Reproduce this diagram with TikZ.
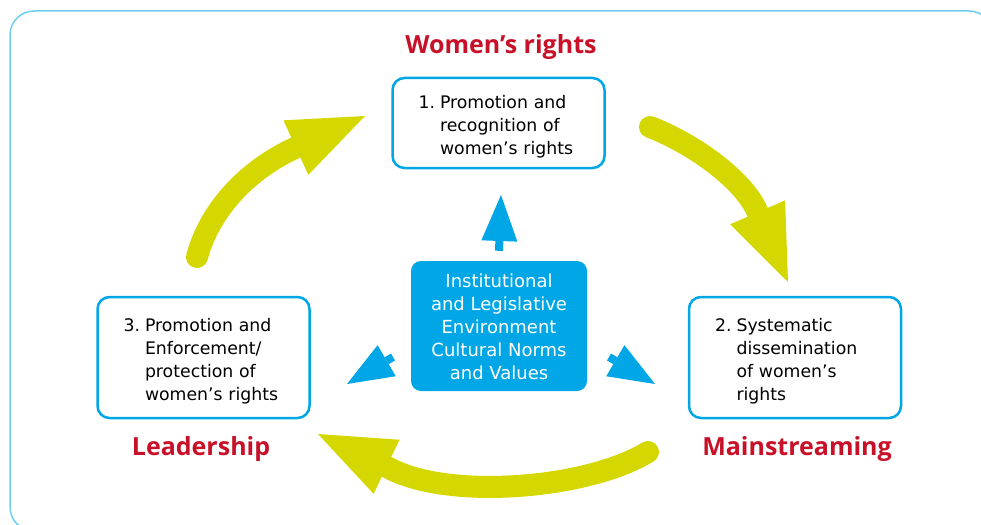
\documentclass[tikz,border=0pt]{standalone}
\usepackage{fontspec}
\setmainfont{DejaVu Sans}
\newfontfamily\headfont{Open Sans}
\usetikzlibrary{arrows.meta}

\definecolor{boxblue}{RGB}{0,166,230}
\definecolor{framecyan}{RGB}{110,205,242}
\definecolor{leaf}{RGB}{212,216,0}
\definecolor{titlered}{RGB}{200,16,40}

\newcommand{\steplist}[1]{\raisebox{-4pt}[\height][\depth]{\begin{tabular}{@{}l@{\hspace{5pt}}l@{}}#1\end{tabular}}}

\tikzset{
  stage/.style={draw=boxblue, line width=2.5pt, rounded corners=12pt, fill=white,
    minimum height=#1, text width=160pt, inner xsep=26pt, align=left,
    font=\fontsize{17.3}{23}\selectfont},
  core/.style={fill=boxblue, rounded corners=10pt, minimum width=176pt, minimum height=130pt,
    text=white, align=center, font=\fontsize{18}{22.8}\selectfont},
  title/.style={text=titlered, font=\headfont\bfseries\fontsize{25}{29}\selectfont},
  sweep/.style={draw=leaf, line width=22pt, line cap=round,
    -{Triangle[length=76pt,width=60pt,line width=0pt]}},
  push/.style={draw=boxblue, line width=8pt,
    -{Triangle[length=46pt,width=36pt,line width=0pt]}}
}

\begin{document}
\begin{tikzpicture}[x=1pt,y=-1pt]
\useasboundingbox (0,0) rectangle (981,524);
\begin{scope}
\clip (0,0) rectangle (981,524);
\draw[framecyan, line width=1.5pt, rounded corners=24pt] (10,11) rectangle (993,531);
\end{scope}

\node[stage=90pt] (rec) at (498.5,123)
  {\steplist{1. & Promotion and\\ & recognition of\\ & women’s rights}};
\node[stage=121pt] (diss) at (795,357.5)
  {\steplist{2. & Systematic\\ & dissemination\\ & of women’s\\ & rights}};
\node[stage=121pt] (enf) at (203.5,357.5)
  {\steplist{3. & Promotion and\\ & Enforcement/\\ & protection of\\ & women’s rights}};
\node[core] (env) at (499,326)
  {\raisebox{-3pt}[\height][\depth]{\begin{tabular}{@{}c@{}}Institutional\\and Legislative\\Environment\\Cultural Norms\\and Values\end{tabular}}};

\node[title] (wr) at (501,47) {Women’s rights};
\node[title] (lead) at (201,449) {Leadership};
\node[title] (main) at (797,449) {Mainstreaming};

\coordinate (s1) at (197,257);
\coordinate (t1) at (365,116);
\coordinate (s2) at (650,127);
\coordinate (t2) at (788,282);
\coordinate (s3) at (648,452);
\coordinate (t3) at (318,434);
\draw[sweep] (s1) .. controls (209,212) and (245,171) .. (295,148) -- (t1);
\draw[sweep] (s2) .. controls (692,143) and (743,179) .. (757,211) -- (t2);
\draw[sweep] (s3) .. controls (585,490) and (445,500) .. (387,467) -- (t3);

\coordinate (up) at (501,195);
\coordinate (dl) at (347,384);
\coordinate (dr) at (655,384);
\draw[push] (env.north) ++(0,-10) -- (up);
\draw[push] (393,357) -- (dl);
\draw[push] (609,357) -- (dr);
\end{tikzpicture}
\end{document}
